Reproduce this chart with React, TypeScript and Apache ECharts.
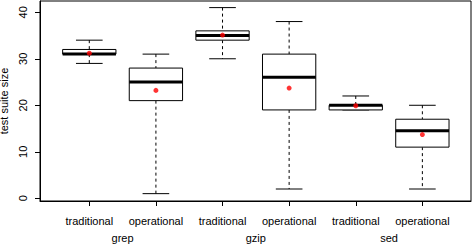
import React, { useEffect, useRef } from "react";
import * as echarts from "echarts";

const tickLabels = ["traditional", "operational", "traditional", "operational", "traditional", "operational"];
const groupLabels = ["grep", "gzip", "sed"];
const lowWhisker = [29, 1, 30, 2, 19, 2];
const q1 = [31, 21, 34, 19, 19, 11];
const median = [31, 25, 35, 26, 20, 14.5];
const q3 = [32, 28, 36, 31, 20, 17];
const highWhisker = [34, 31, 41, 38, 22, 20];
const means = [31.2, 23.2, 35.1, 23.7, 19.9, 13.7];
const yTicks = [0, 10, 20, 30, 40];

const FONT = "'Liberation Sans', Arial, Helvetica, sans-serif";

export default function App() {
  const ref = useRef<HTMLDivElement>(null);
  useEffect(() => {
    if (!ref.current) return;
    const chart = echarts.init(ref.current, null, { renderer: "svg" });
    const positions = tickLabels.map((_, i) => i + 1);
    const boxData = positions.map((p, i) => [p, lowWhisker[i], q1[i], median[i], q3[i], highWhisker[i]]);
    const meanData = positions.map((p, i) => [p, means[i]]);
    const xMin = 0.26;
    const xMax = 6.73;
    chart.setOption({
      animation: false,
      backgroundColor: "#ffffff",
      textStyle: { fontFamily: FONT },
      grid: {
        left: 40,
        right: 1,
        top: 1,
        bottom: 45,
        show: true,
        containLabel: false,
        outerBoundsMode: "none",
        borderColor: "#000",
        borderWidth: 1,
        backgroundColor: "transparent",
      },
      xAxis: [
        {
          type: "value",
          min: xMin,
          max: xMax,
          position: "bottom",
          axisLine: { show: true, onZero: false, lineStyle: { color: "#000", width: 1 } },
          splitLine: { show: false },
          axisTick: {
            show: true,
            inside: false,
            customValues: positions,
            length: 5,
            lineStyle: { color: "#000", width: 1 },
          },
          axisLabel: {
            customValues: positions,
            formatter: (v: number) => tickLabels[Math.round(v) - 1] ?? "",
            margin: 14,
            fontSize: 11,
            color: "#000",
            fontFamily: FONT,
          },
        },
        {
          type: "value",
          min: xMin,
          max: xMax,
          position: "bottom",
          axisLine: { show: false, onZero: false },
          splitLine: { show: false },
          axisTick: { show: false },
          axisLabel: {
            customValues: [1.5, 3.5, 5.5],
            formatter: (v: number) => groupLabels[Math.round((v - 1.5) / 2)] ?? "",
            margin: 31,
            fontSize: 11,
            color: "#000",
            fontFamily: FONT,
          },
        },
      ],
      yAxis: {
        type: "value",
        min: -0.58,
        max: 42.42,
        name: "test suite size",
        nameLocation: "middle",
        nameRotate: 90,
        nameGap: 27,
        nameTextStyle: { fontSize: 11, color: "#000", fontFamily: FONT },
        axisLine: { show: true, onZero: false, lineStyle: { color: "#000", width: 1 } },
        splitLine: { show: false },
        axisTick: {
          show: true,
          inside: false,
          customValues: yTicks,
          length: 5,
          lineStyle: { color: "#000", width: 1 },
        },
        axisLabel: {
          customValues: yTicks,
          rotate: 90,
          margin: 12,
          fontSize: 11,
          color: "#000",
          fontFamily: FONT,
        },
      },
      series: [
        {
          type: "custom",
          xAxisIndex: 0,
          encode: { x: 0, y: [1, 2, 3, 4, 5] },
          data: boxData,
          renderItem: (params: any, api: any) => {
            const x = api.value(0);
            const lo = api.value(1);
            const a = api.value(2);
            const m = api.value(3);
            const b = api.value(4);
            const hi = api.value(5);
            const hw = 0.4;
            const cw = 0.2;
            const pLo = api.coord([x, lo]);
            const pA = api.coord([x, a]);
            const pB = api.coord([x, b]);
            const pHi = api.coord([x, hi]);
            const boxL = api.coord([x - hw, b]);
            const boxR = api.coord([x + hw, a]);
            const mL = api.coord([x - hw, m]);
            const mR = api.coord([x + hw, m]);
            const capL = api.coord([x - cw, hi])[0];
            const capR = api.coord([x + cw, hi])[0];
            const dashed = { stroke: "#000", lineWidth: 1, lineDash: [3, 3], fill: null };
            const solid = { stroke: "#000", lineWidth: 1, fill: null };
            return {
              type: "group",
              children: [
                { type: "line", shape: { x1: pHi[0], y1: pHi[1], x2: pB[0], y2: pB[1] }, style: dashed },
                { type: "line", shape: { x1: pA[0], y1: pA[1], x2: pLo[0], y2: pLo[1] }, style: dashed },
                { type: "line", shape: { x1: capL, y1: pHi[1], x2: capR, y2: pHi[1] }, style: solid },
                { type: "line", shape: { x1: capL, y1: pLo[1], x2: capR, y2: pLo[1] }, style: solid },
                {
                  type: "rect",
                  shape: { x: boxL[0], y: boxL[1], width: boxR[0] - boxL[0], height: boxR[1] - boxL[1] },
                  style: { stroke: "#000", lineWidth: 1, fill: "#fff" },
                },
                { type: "line", shape: { x1: mL[0], y1: mL[1], x2: mR[0], y2: mR[1] }, style: { stroke: "#000", lineWidth: 3 } },
              ],
            };
          },
        },
        {
          type: "scatter",
          xAxisIndex: 0,
          data: meanData,
          symbol: "circle",
          symbolSize: 5,
          itemStyle: { color: "#ff0000" },
          z: 5,
        },
      ],
    });
    return () => chart.dispose();
  }, []);
  return (
    <div
      ref={ref}
      style={{ position: "fixed", left: 0, top: 0, width: 472, height: 246, background: "#fff" }}
    />
  );
}
